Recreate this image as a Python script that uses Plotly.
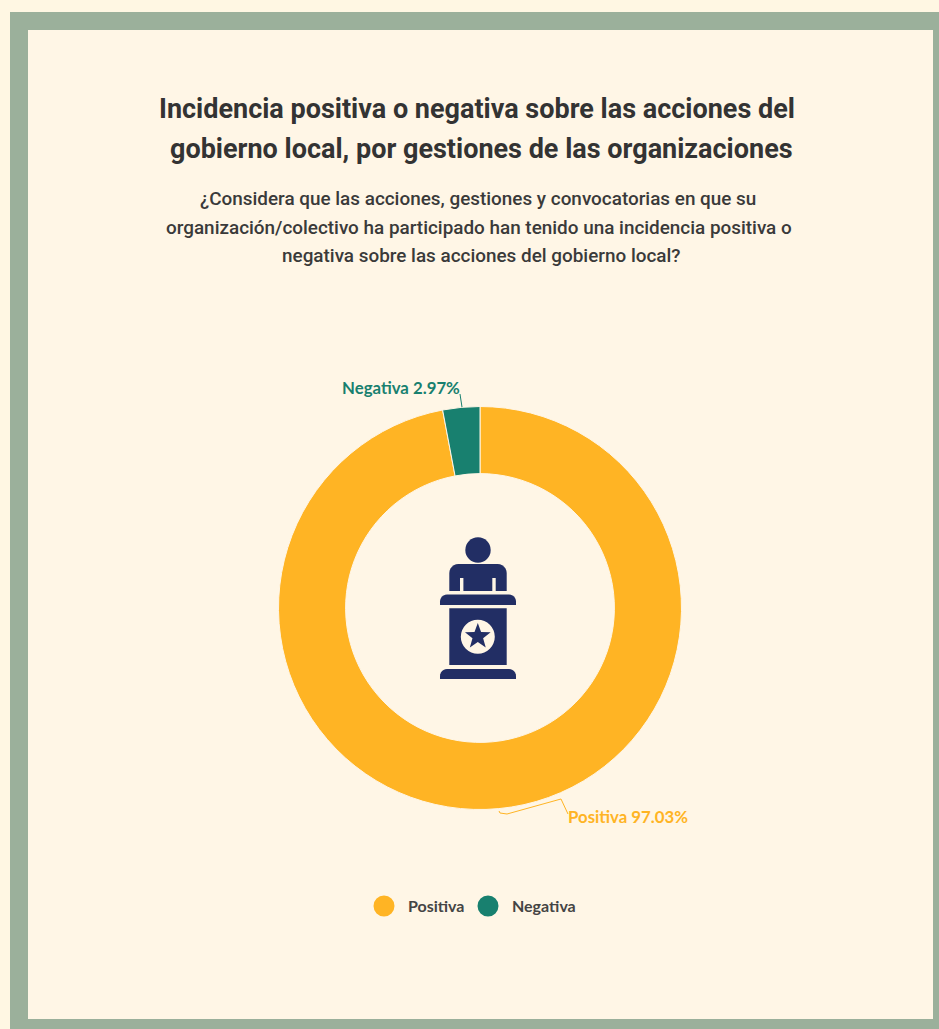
import math
import plotly.graph_objects as go

W, H = 939, 1029

categories = ["Positiva", "Negativa"]
values = [97.03, 2.97]
colors = ["#FFB424", "#18806F"]
title_lines = [
    "Incidencia positiva o negativa sobre las acciones del",
    "gobierno local, por gestiones de las organizaciones",
]
subtitle_lines = [
    "¿Considera que las acciones, gestiones y convocatorias en que su",
    "organización/colectivo ha participado han tenido una incidencia positiva o",
    "negativa sobre las acciones del gobierno local?",
]

BG = "#FFF6E6"
FRAME = "#9BB09B"
NAVY = "#222E64"
TEXT = "#333333"


def px(x):
    return x / W


def py(y):
    return 1 - y / H


def rect(x0, y0, x1, y1, color, layer="above"):
    return dict(type="rect", xref="paper", yref="paper", x0=px(x0), x1=px(x1), y0=py(y0), y1=py(y1),
                fillcolor=color, line_width=0, layer=layer)


def circle(cx, cy, r, color, layer="above"):
    return dict(type="circle", xref="paper", yref="paper", x0=px(cx - r), x1=px(cx + r),
                y0=py(cy - r), y1=py(cy + r), fillcolor=color, line_width=0, layer=layer)


def poly(points, color=None, line=None, width=1, closed=True):
    d = "M " + " L ".join(f"{px(x):.5f},{py(y):.5f}" for x, y in points) + (" Z" if closed else "")
    return dict(type="path", xref="paper", yref="paper", path=d,
                fillcolor=color if color else "rgba(0,0,0,0)",
                line=dict(color=line if line else "rgba(0,0,0,0)", width=width), layer="above")


def capped(x0, y0, x1, y1, r, color):
    # bar with rounded upper corners
    pts = [(x0, y1)]
    for i in range(7):
        a = math.pi - i * math.pi / 12
        pts.append((x0 + r + r * math.cos(a), y0 + r - r * math.sin(a)))
    for i in range(7):
        a = math.pi / 2 - i * math.pi / 12
        pts.append((x1 - r + r * math.cos(a), y0 + r - r * math.sin(a)))
    pts.append((x1, y1))
    return poly(pts, color=color)


def star(cx, cy, ro, ri, color):
    pts = []
    for i in range(10):
        a = -math.pi / 2 + i * math.pi / 5
        r = ro if i % 2 == 0 else ri
        pts.append((cx + r * math.cos(a), cy + r * math.sin(a)))
    return poly(pts, color=color)


shapes = [
    rect(10, 12, W, H, FRAME, "below"),
    rect(28, 30, 933, 1019, BG, "below"),
    # speaker icon
    circle(478, 550, 12.7, NAVY),
    capped(449.3, 564, 506.7, 591, 9, NAVY),
    rect(460, 578, 463.4, 591, BG),
    rect(492.3, 578, 495.7, 591, BG),
    capped(440, 594.5, 516, 605, 7, NAVY),
    rect(449.3, 608.3, 506.7, 665, NAVY),
    circle(477.8, 636.7, 17, BG),
    star(477.8, 636.5, 13.5, 5.6, NAVY),
    capped(440, 669, 516, 679, 7, NAVY),
    # leader lines
    poly([(460, 394), (462, 407)], line=colors[1], width=1, closed=False),
    poly([(499, 811), (500, 813), (507, 814), (561, 799), (568, 814)], line=colors[0], width=1, closed=False),
    # legend markers
    circle(384, 906, 10.5, colors[0]),
    circle(488, 906, 10.5, colors[1]),
]


def txt(x, y, s, size, color, family, anchor="center", bold=False, weight=None):
    f = dict(size=size, color=color, family=family)
    if weight:
        f["weight"] = weight
    return dict(xref="paper", yref="paper", x=px(x), y=py(y), text=f"<b>{s}</b>" if bold else s,
                showarrow=False, xanchor=anchor, yanchor="middle", font=f)


annotations = [
    txt(477.5, 109, title_lines[0], 27, TEXT, "Roboto", bold=True),
    txt(481, 149, title_lines[1], 27, TEXT, "Roboto", bold=True),
    txt(478, 199, subtitle_lines[0], 18.9, "#3A3A3A", "Roboto", weight=500),
    txt(479, 227, subtitle_lines[1], 18.9, "#3A3A3A", "Roboto", weight=500),
    txt(481, 256, subtitle_lines[2], 18.9, "#3A3A3A", "Roboto", weight=500),
    txt(400.5, 387, f"{categories[1]} {values[1]:.2f}%", 16.8, colors[1], "Lato", bold=True),
    txt(627.5, 816, f"{categories[0]} {values[0]:.2f}%", 16.8, colors[0], "Lato", bold=True),
    txt(405.5, 905, categories[0], 16, "#444444", "Lato", anchor="left", bold=True),
    txt(509.5, 905, categories[1], 16, "#444444", "Lato", anchor="left", bold=True),
]

cx, cy, R = 480, 608, 201.5
fig = go.Figure(go.Pie(
    labels=categories,
    values=values,
    sort=False,
    direction="clockwise",
    rotation=0,
    hole=0.667,
    textinfo="none",
    marker=dict(colors=colors, line=dict(color=BG, width=1)),
    domain=dict(x=[px(cx - R), px(cx + R)], y=[py(cy + R), py(cy - R)]),
    showlegend=False,
))
fig.update_layout(
    width=W, height=H,
    margin=dict(l=0, r=0, t=0, b=0),
    paper_bgcolor="#FFF7E3",
    plot_bgcolor="#FFF7E3",
    shapes=shapes,
    annotations=annotations,
)
fig.write_html(
    "out.html",
    config=dict(displayModeBar=False),
    post_script="document.body.style.margin='0';document.body.style.overflow='hidden';",
)
